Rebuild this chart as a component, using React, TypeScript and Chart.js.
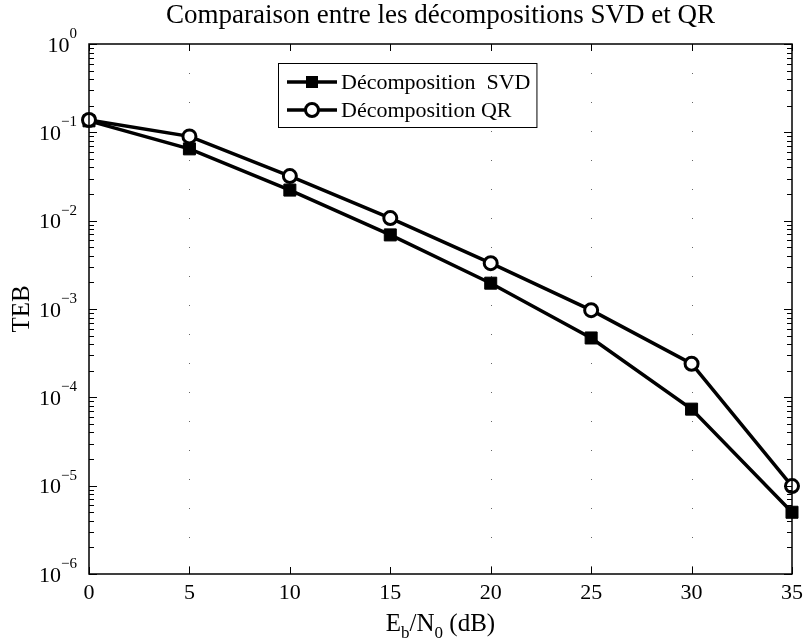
import React, { useEffect, useRef } from "react";
import { Chart, registerables } from "chart.js";

Chart.register(...registerables);

// ---- data ----
const ebn0 = [0, 5, 10, 15, 20, 25, 30, 35];
const tebSVD = [0.135, 0.065, 0.0222, 0.0069, 0.00196, 0.00047, 0.0000735, 0.000005];
const tebQR = [0.138, 0.09, 0.032, 0.0107, 0.0033, 0.00097, 0.00024, 0.0000099];
const xTicks = [0, 5, 10, 15, 20, 25, 30, 35];
const yDecades = [0, -1, -2, -3, -4, -5, -6];
const gridCols = [5, 20, 25, 30];
const titleText = "Comparaison entre les décompositions SVD et QR";
const legendLabels = ["Décomposition  SVD", "Décomposition QR"];
const yLabel = "TEB";

const FONT = "'Liberation Serif', 'Times New Roman', serif";

function drawSquare(ctx: CanvasRenderingContext2D, x: number, y: number) {
  ctx.fillStyle = "#000";
  ctx.fillRect(x - 6, y - 6, 12, 12);
}
function drawCircle(ctx: CanvasRenderingContext2D, x: number, y: number) {
  ctx.beginPath();
  ctx.arc(x, y, 6.5, 0, Math.PI * 2);
  ctx.fillStyle = "#fff";
  ctx.fill();
  ctx.lineWidth = 3;
  ctx.strokeStyle = "#000";
  ctx.stroke();
}

const decorPlugin = {
  id: "matlabDecor",
  beforeDatasetsDraw(chart: any) {
    const { ctx, chartArea: a, scales } = chart;
    const xs = scales.x;
    ctx.save();
    // sparse dotted vertical grid (mostly faded in the scan)
    ctx.strokeStyle = "#666";
    ctx.lineWidth = 1;
    ctx.setLineDash([1, 28]);
    for (const t of gridCols) {
      const px = Math.round(xs.getPixelForValue(t)) + 0.5;
      ctx.beginPath();
      ctx.moveTo(px, a.top);
      ctx.lineTo(px, a.bottom);
      ctx.stroke();
    }
    ctx.restore();
  },
  afterDraw(chart: any) {
    const { ctx, chartArea: a, scales } = chart;
    const xs = scales.x;
    const ys = scales.y;
    ctx.save();
    ctx.setLineDash([]);
    // axes box
    ctx.strokeStyle = "#000";
    ctx.lineWidth = 1.5;
    ctx.strokeRect(a.left, a.top, a.right - a.left, a.bottom - a.top);

    // x ticks (inward, top and bottom)
    ctx.lineWidth = 1;
    for (const t of xTicks) {
      const px = Math.round(xs.getPixelForValue(t)) + 0.5;
      ctx.beginPath();
      ctx.moveTo(px, a.bottom);
      ctx.lineTo(px, a.bottom - 7);
      ctx.moveTo(px, a.top);
      ctx.lineTo(px, a.top + 7);
      ctx.stroke();
    }
    // y ticks (major + minor)
    for (const d of yDecades) {
      const py = Math.round(ys.getPixelForValue(Math.pow(10, d))) + 0.5;
      ctx.beginPath();
      ctx.moveTo(a.left, py);
      ctx.lineTo(a.left + 8, py);
      ctx.moveTo(a.right, py);
      ctx.lineTo(a.right - 8, py);
      ctx.stroke();
      if (d < 0) {
        for (let m = 2; m <= 9; m++) {
          const pm = Math.round(ys.getPixelForValue(m * Math.pow(10, d))) + 0.5;
          ctx.beginPath();
          ctx.moveTo(a.left, pm);
          ctx.lineTo(a.left + 5, pm);
          ctx.moveTo(a.right, pm);
          ctx.lineTo(a.right - 5, pm);
          ctx.stroke();
        }
      }
    }

    ctx.fillStyle = "#000";
    // x tick labels
    ctx.font = `22px ${FONT}`;
    ctx.textAlign = "center";
    ctx.textBaseline = "middle";
    for (const t of xTicks) {
      ctx.fillText(String(t), xs.getPixelForValue(t), a.bottom + 19);
    }
    // y tick labels 10^d
    for (const d of yDecades) {
      const py = ys.getPixelForValue(Math.pow(10, d));
      const exp = d === 0 ? "0" : "\u2212" + String(-d);
      ctx.font = `15px ${FONT}`;
      ctx.textAlign = "left";
      const ew = ctx.measureText(exp).width;
      const right = 77;
      ctx.fillText(exp, right - ew, py - 10);
      ctx.font = `22px ${FONT}`;
      ctx.textAlign = "right";
      ctx.fillText("10", right - ew, py + 2);
    }

    // title
    ctx.font = `27px ${FONT}`;
    ctx.textAlign = "center";
    ctx.textBaseline = "middle";
    ctx.fillText(titleText, (a.left + a.right) / 2, 16);

    // y axis label
    ctx.save();
    ctx.translate(22, (a.top + a.bottom) / 2);
    ctx.rotate(-Math.PI / 2);
    ctx.font = `25px ${FONT}`;
    ctx.textAlign = "center";
    ctx.textBaseline = "middle";
    ctx.fillText(yLabel, 0, 0);
    ctx.restore();

    // x axis label: E_b/N_0 (dB)
    const parts: [string, boolean][] = [["E", false], ["b", true], ["/N", false], ["0", true], [" (dB)", false]];
    const mainF = `25px ${FONT}`;
    const subF = `17px ${FONT}`;
    let total = 0;
    for (const [s, sub] of parts) {
      ctx.font = sub ? subF : mainF;
      total += ctx.measureText(s).width;
    }
    let cx = (a.left + a.right) / 2 - total / 2;
    const by = 631;
    ctx.textAlign = "left";
    ctx.textBaseline = "alphabetic";
    for (const [s, sub] of parts) {
      ctx.font = sub ? subF : mainF;
      ctx.fillText(s, cx, sub ? by + 7 : by);
      cx += ctx.measureText(s).width;
    }

    // legend
    ctx.font = `22px ${FONT}`;
    const textX = 341;
    const tw = Math.max(...legendLabels.map((l) => ctx.measureText(l).width));
    const bx = 278, byTop = 63, bw = textX + tw + 6 - bx, bh = 64;
    ctx.fillStyle = "#fff";
    ctx.fillRect(bx, byTop, bw, bh);
    ctx.strokeStyle = "#000";
    ctx.lineWidth = 1;
    ctx.strokeRect(bx + 0.5, byTop + 0.5, bw, bh);
    const rows = [byTop + 19, byTop + 47];
    rows.forEach((ry, i) => {
      ctx.strokeStyle = "#000";
      ctx.lineWidth = 3.5;
      ctx.beginPath();
      ctx.moveTo(287, ry);
      ctx.lineTo(337, ry);
      ctx.stroke();
      if (i === 0) drawSquare(ctx, 312, ry);
      else drawCircle(ctx, 312, ry);
      ctx.fillStyle = "#000";
      ctx.font = `22px ${FONT}`;
      ctx.textAlign = "left";
      ctx.textBaseline = "middle";
      ctx.fillText(legendLabels[i], textX, ry + 1);
    });

    ctx.restore();
  },
};

export default function App() {
  const ref = useRef<HTMLCanvasElement | null>(null);
  useEffect(() => {
    const canvas = ref.current;
    if (!canvas) return;
    const chart = new Chart(canvas, {
      type: "line",
      data: {
        datasets: [
          {
            label: legendLabels[0],
            data: ebn0.map((x, i) => ({ x, y: tebSVD[i] })),
            borderColor: "#000",
            borderWidth: 3.5,
            pointStyle: "rect",
            pointRadius: 8.5,
            pointBackgroundColor: "#000",
            pointBorderColor: "#000",
            pointBorderWidth: 1,
            tension: 0,
            order: 1,
            clip: false as any,
          },
          {
            label: legendLabels[1],
            data: ebn0.map((x, i) => ({ x, y: tebQR[i] })),
            borderColor: "#000",
            borderWidth: 3.5,
            pointStyle: "circle",
            pointRadius: 6.5,
            pointBackgroundColor: "#fff",
            pointBorderColor: "#000",
            pointBorderWidth: 3,
            tension: 0,
            order: 0,
            clip: false as any,
          },
        ],
      },
      options: {
        animation: false,
        responsive: false,
        devicePixelRatio: 1,
        layout: { padding: { left: 89, right: 13, top: 44, bottom: 70 } },
        plugins: {
          legend: { display: false },
          title: { display: false },
          tooltip: { enabled: false },
        },
        scales: {
          x: { type: "linear", min: 0, max: 35, display: false },
          y: { type: "logarithmic", min: 1e-6, max: 1, display: false },
        },
      },
      plugins: [decorPlugin],
    });
    return () => chart.destroy();
  }, []);
  return (
    <div style={{ position: "absolute", left: 0, top: 0, width: 805, height: 644, background: "#fff" }}>
      <canvas ref={ref} width={805} height={644} style={{ display: "block", width: 805, height: 644 }} />
    </div>
  );
}
